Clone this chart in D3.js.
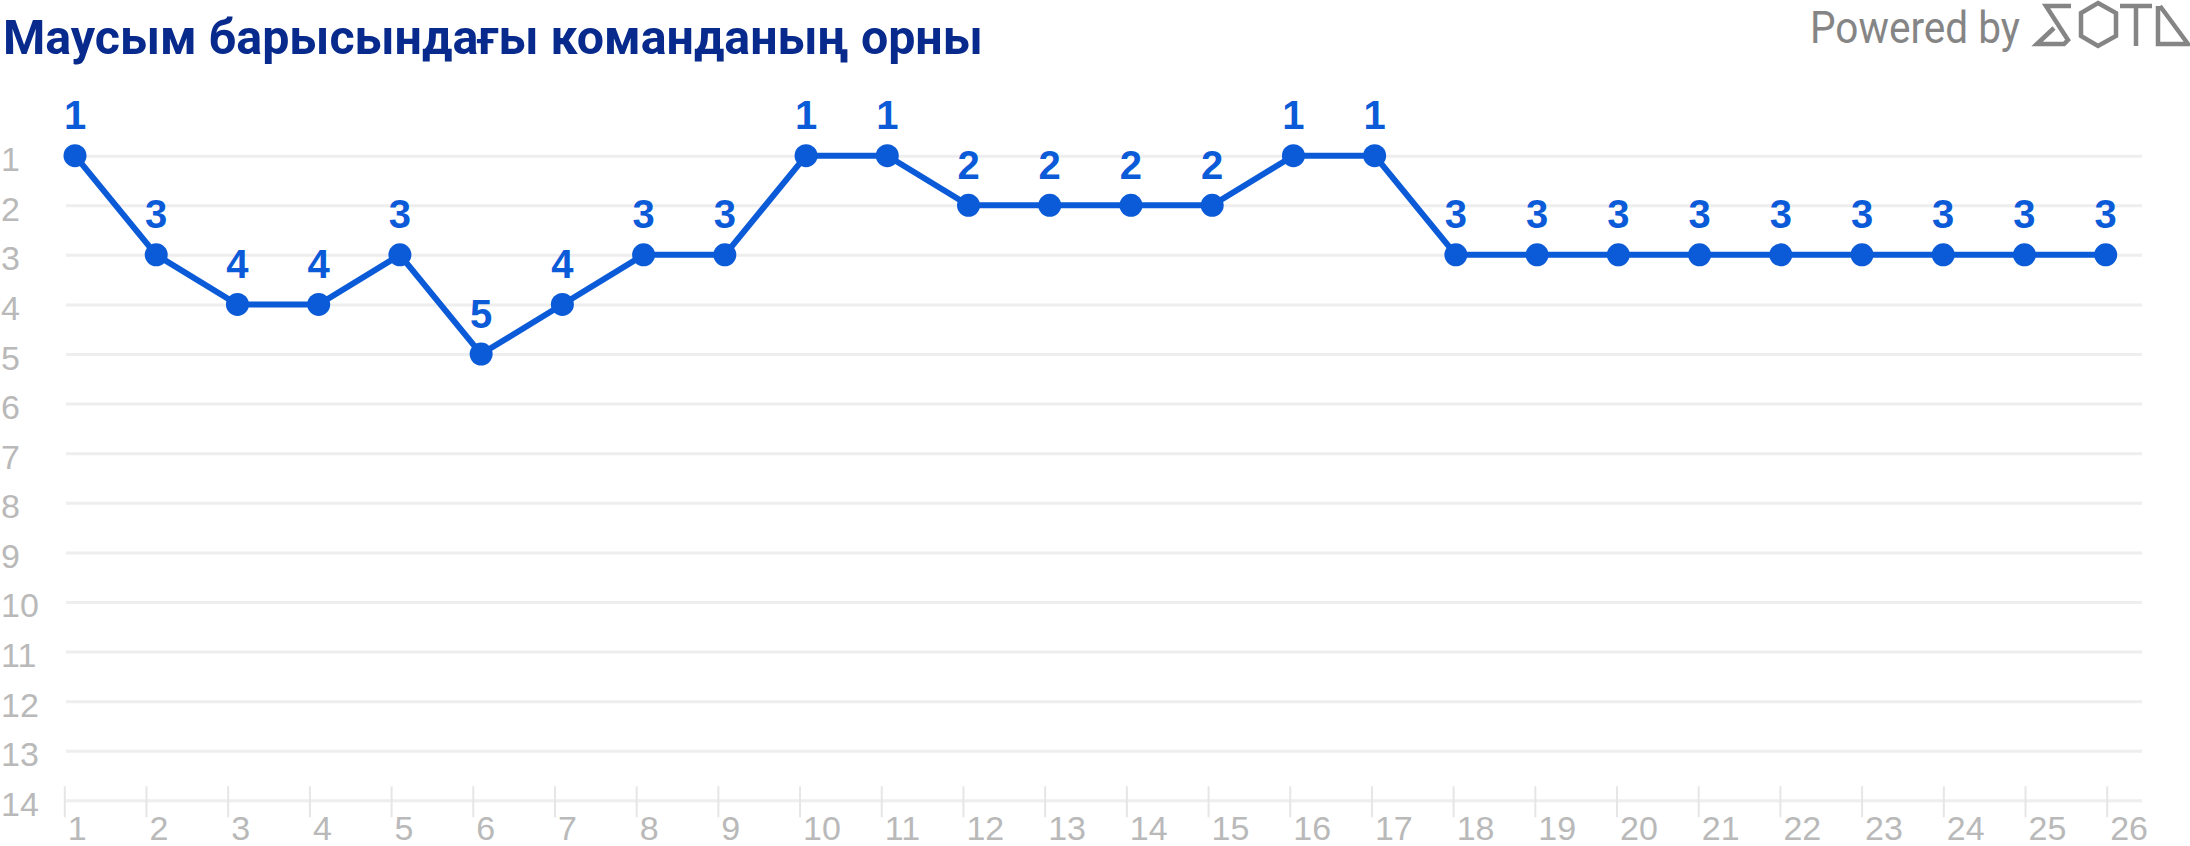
<!DOCTYPE html>
<html>
<head>
<meta charset="utf-8">
<script src="https://cdn.jsdelivr.net/npm/d3@7"></script>
<style>
  html, body { margin: 0; padding: 0; background: #fff; }
  svg { display: block; }
</style>
</head>
<body>
<svg id="chart" width="2190" height="846"></svg>
<script>
const titleText = "Маусым барысындағы команданың орны";
const rounds = d3.range(1, 27);
const positions = [1,3,4,4,3,5,4,3,3,1,1,2,2,2,2,1,1,3,3,3,3,3,3,3,3,3];
const yTickValues = d3.range(1, 15);
const xTickValues = d3.range(1, 27);

const svg = d3.select("#chart");
const blue = "#0b5bd8";
const gridColor = "#eeeeee";
const labelGray = "#b9b9b9";

const x = d3.scaleLinear().domain([1, 26]).range([75, 2105.7]);
const xAxisScale = d3.scaleLinear().domain([1, 26]).range([64.3, 2106.7]);
const y = d3.scaleLinear().domain([1, 14]).range([155.7, 800.3]);

const gridLeft = 66, gridRight = 2142;

// Y gridlines + labels
const yAxis = d3.axisLeft(y).tickValues(yTickValues).tickSize(-(gridRight - gridLeft)).tickFormat(d3.format("d"));
const gy = svg.append("g").attr("transform", `translate(${gridLeft},0)`).call(yAxis);
gy.select(".domain").remove();
gy.selectAll(".tick line").attr("stroke", gridColor).attr("stroke-width", 3);
gy.selectAll(".tick text")
  .attr("x", -gridLeft + 1).attr("dy", 15).attr("text-anchor", "start")
  .attr("fill", labelGray).style("font-family", "'Liberation Sans', Arial, sans-serif").style("font-size", "34px");

// X ticks + labels
const xAxis = d3.axisBottom(xAxisScale).tickValues(xTickValues).tickSize(17).tickFormat(d3.format("d"));
const gx = svg.append("g").attr("transform", `translate(0,${y(14)})`).call(xAxis);
gx.select(".domain").remove();
gx.selectAll(".tick line").attr("y1", -14).attr("stroke", "#e6e6e6").attr("stroke-width", 2);
gx.selectAll(".tick text")
  .attr("x", 3).attr("y", 40).attr("dy", 0).attr("text-anchor", "start")
  .attr("fill", labelGray).style("font-family", "'Liberation Sans', Arial, sans-serif").style("font-size", "34px");

// Line
const data = rounds.map((r, i) => ({ r, v: positions[i] }));
const line = d3.line().x(d => x(d.r)).y(d => y(d.v));
svg.append("path").datum(data).attr("d", line)
  .attr("fill", "none").attr("stroke", blue).attr("stroke-width", 6).attr("stroke-linejoin", "round");

svg.append("g").selectAll("circle").data(data).join("circle")
  .attr("cx", d => x(d.r)).attr("cy", d => y(d.v)).attr("r", 11.5).attr("fill", blue);

svg.append("g").selectAll("text").data(data).join("text")
  .attr("x", d => x(d.r)).attr("y", d => y(d.v) - 26.5)
  .attr("text-anchor", "middle").attr("fill", blue)
  .style("font-family", "'Liberation Sans', Arial, sans-serif").style("font-weight", "bold").style("font-size", "40px")
  .text(d => d.v);

// Title
const title = svg.append("text").attr("x", 3).attr("y", 54)
  .attr("fill", "#072a8c")
  .style("font-family", "Roboto, 'Liberation Sans', sans-serif").style("font-weight", "bold").style("font-size", "46px")
  .text(titleText);
const tw = title.node().getComputedTextLength();
title.style("font-size", (46 * 980 / tw).toFixed(2) + "px");

// Powered by
svg.append("text").attr("x", 1810).attr("y", 43)
  .attr("fill", "#858585")
  .attr("textLength", 210).attr("lengthAdjust", "spacingAndGlyphs")
  .style("font-family", "Roboto, sans-serif").style("font-size", "44px")
  .text("Powered by");

// SOTA logo
const logo = svg.append("g").attr("fill", "none").attr("stroke", "#858585").attr("stroke-width", 4.5)
  .attr("stroke-linejoin", "miter");
logo.append("path").attr("d", "M2071,6 H2046 L2068,40 L2064,44 H2037 L2054,28");
logo.append("path").attr("d", "M2098,3 L2116,13 L2116,36 L2098,46 L2081,36 L2081,13 Z");
logo.append("path").attr("d", "M2120,6 H2152 M2136,6 V46");
logo.append("path").attr("d", "M2160,6 L2188,44 H2158 V6");
</script>
</body>
</html>
